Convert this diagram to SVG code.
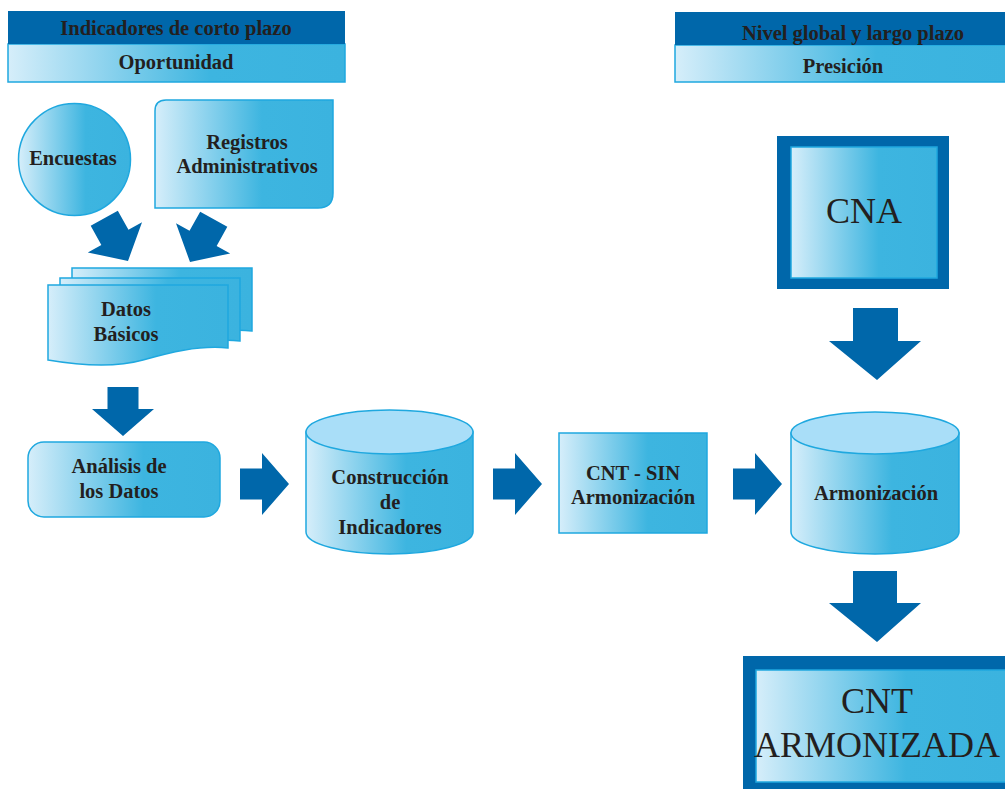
<svg xmlns="http://www.w3.org/2000/svg" width="1005" height="789" viewBox="0 0 1005 789">
<defs>
<linearGradient id="g" x1="0" y1="0" x2="1" y2="0">
<stop offset="0" stop-color="#d6eefa"/>
<stop offset="0.6" stop-color="#3db5e0"/>
<stop offset="1" stop-color="#3bb3df"/>
</linearGradient>
<path id="doc" d="M0,0 L180,0 L180,63 C150,60 120,68 95,75 C70,82 35,81 0,75 Z"/>
<path id="arrowS" d="M-15.5,-49 L15.5,-49 L15.5,-27 L31,-27 L0,0 L-31,-27 L-15.5,-27 Z"/>
</defs>
<style>
.f{fill:url(#g);stroke:#1fa8df;stroke-width:1.5}
.top{fill:#a9def8;stroke:#1fa8df;stroke-width:1.5}
.dark{fill:#0067aa}
.t{font-family:"Liberation Serif",serif;font-weight:bold;font-size:20.5px;fill:#231f20;text-anchor:middle}
.big{font-family:"Liberation Serif",serif;font-size:36px;fill:#231f20;text-anchor:middle}
.arr{fill:#0067aa}
</style>
<rect width="1005" height="789" fill="#fff"/>

<g id="header-left">
<rect x="8" y="44" width="337" height="38" class="f"/>
<rect x="8" y="11" width="337" height="33" class="dark"/>
<text x="176" y="35" class="t">Indicadores de corto plazo</text>
<text x="176" y="69" class="t">Oportunidad</text>
</g>

<g id="header-right">
<rect x="675" y="45" width="335" height="37" class="f"/>
<rect x="675" y="12" width="335" height="33" class="dark"/>
<text x="853" y="40" class="t">Nivel global y largo plazo</text>
<text x="843" y="73" class="t">Presición</text>
</g>

<g id="encuestas">
<circle cx="74.5" cy="159.5" r="56" class="f"/>
<text x="73" y="165" class="t">Encuestas</text>
</g>

<g id="registros">
<path d="M155,111 Q155,100 166,100 L333,100 L333,193 Q333,208 318,208 L155,208 Z" class="f"/>
<text x="247" y="149" class="t">Registros</text>
<text x="247" y="173" class="t">Administrativos</text>
</g>

<g id="datos">
<use href="#doc" x="72" y="268" class="f"/>
<use href="#doc" x="60" y="278" class="f"/>
<use href="#doc" x="48" y="285" class="f"/>
<text x="126" y="316" class="t">Datos</text>
<text x="126" y="341" class="t">Básicos</text>
</g>

<g id="analisis">
<rect x="28" y="442" width="192" height="75" rx="16" class="f"/>
<text x="119" y="473" class="t">Análisis de</text>
<text x="119" y="498" class="t">los Datos</text>
</g>

<g id="construccion">
<path d="M306,432 L306,532 A83.5,22 0 0 0 473,532 L473,432 Z" class="f"/>
<ellipse cx="389.5" cy="432" rx="83.5" ry="22" class="top"/>
<text x="390" y="484" class="t">Construcción</text>
<text x="390" y="509" class="t">de</text>
<text x="390" y="534" class="t">Indicadores</text>
</g>

<g id="cnt-sin">
<rect x="559" y="433" width="148" height="100" class="f"/>
<text x="633" y="480" class="t">CNT - SIN</text>
<text x="633" y="504" class="t">Armonización</text>
</g>

<g id="armonizacion">
<path d="M791,433 L791,532 A84,22 0 0 0 959,532 L959,433 Z" class="f"/>
<ellipse cx="875" cy="433" rx="84" ry="21" class="top"/>
<text x="876" y="500" class="t">Armonización</text>
</g>

<g id="cna">
<rect x="777" y="136" width="172" height="153" class="dark"/>
<rect x="791" y="147" width="146" height="131" class="f"/>
<text x="864" y="223" class="big">CNA</text>
</g>

<g id="cnt-armonizada">
<rect x="743" y="656" width="270" height="140" class="dark"/>
<rect x="756" y="670" width="250" height="112" class="f"/>
<text x="877" y="713" class="big">CNT</text>
<text x="877" y="757" class="big">ARMONIZADA</text>
</g>

<g id="connectors">
<use href="#arrowS" transform="translate(128,261) rotate(-29)" class="arr"/>
<use href="#arrowS" transform="translate(190,262) rotate(29)" class="arr"/>
<use href="#arrowS" transform="translate(123,436)" class="arr"/>
<use href="#arrowS" transform="translate(289,484) rotate(-90)" class="arr"/>
<use href="#arrowS" transform="translate(542,484) rotate(-90)" class="arr"/>
<use href="#arrowS" transform="translate(782,484) rotate(-90)" class="arr"/>
<path d="M853,308 L898,308 L898,341 L921,341 L877,380 L829,341 L853,341 Z" class="arr"/>
<path d="M853,571 L897,571 L897,603 L921,603 L877,642 L829,603 L853,603 Z" class="arr"/>
</g>
</svg>
